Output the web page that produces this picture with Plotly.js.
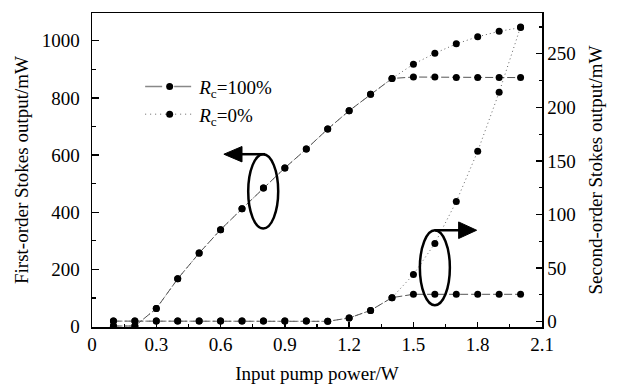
<!DOCTYPE html>
<html>
<head>
<meta charset="utf-8">
<script src="https://cdn.plot.ly/plotly-3.0.1.min.js"></script>
<style>html,body{margin:0;padding:0;background:#fff;}#chart{width:622px;height:388px;}</style>
</head>
<body>
<div id="chart"></div>
<script>
// Data
var pumpPower = [0.1,0.2,0.3,0.4,0.5,0.6,0.7,0.8,0.9,1.0,1.1,1.2,1.3,1.4,1.5,1.6,1.7,1.8,1.9,2.0];
var firstOrderRc100 = [2,2,63,167,257,339,412,485,555,621,691,755,813,868,873,873,871,871,871,871];
var firstOrderRc0   = [2,2,63,167,257,339,412,485,555,621,691,755,813,868,918,956,989,1014,1033,1046];
var secondOrderRc100 = [0.5,0.5,0.5,0.5,0.5,0.5,0.5,0.5,0.5,0.5,0.3,3.4,10.5,22.4,25.5,25.5,25.5,25.5,25.5,25.5];
var secondOrderRc0   = [0.5,0.5,0.5,0.5,0.5,0.5,0.5,0.5,0.5,0.5,0.3,3.4,10.5,22.4,44,73,112,159,214,275];
var legendNames = ['<i>R</i><sub>c</sub>=100%', '<i>R</i><sub>c</sub>=0%'];
var xTicks = [0,0.3,0.6,0.9,1.2,1.5,1.8,2.1];
var xTickText = ['0','0.3','0.6','0.9','1.2','1.5','1.8','2.1'];

var FONT = 'Liberation Serif';
var dashStyle = '8px,3px';
var dotStyle = '1px,3px';
var mk = {color:'#000', size:7};

var traces = [
  {x:pumpPower, y:secondOrderRc0, yaxis:'y2', mode:'lines+markers', name:legendNames[1], legendgroup:'b', showlegend:false,
   line:{color:'#666', width:1, dash:dotStyle}, marker:mk},
  {x:pumpPower, y:firstOrderRc0, yaxis:'y', mode:'lines+markers', name:legendNames[1], legendgroup:'b', showlegend:false,
   line:{color:'#666', width:1, dash:dotStyle}, marker:mk},
  {x:pumpPower, y:secondOrderRc100, yaxis:'y2', mode:'lines+markers', name:legendNames[0], legendgroup:'a', showlegend:false,
   line:{color:'#555', width:1, dash:dashStyle}, marker:mk},
  {x:pumpPower, y:firstOrderRc100, yaxis:'y', mode:'lines+markers', name:legendNames[0], legendgroup:'a', showlegend:false,
   line:{color:'#555', width:1, dash:dashStyle}, marker:mk},
  // legend-only entries in order
  {x:[null], y:[null], mode:'lines+markers', name:legendNames[0], legendgroup:'a', showlegend:true,
   line:{color:'#888', width:1.5, dash:'17px,12px'}, marker:mk},
  {x:[null], y:[null], mode:'lines+markers', name:legendNames[1], legendgroup:'b', showlegend:true,
   line:{color:'#666', width:1, dash:'1px,4px'}, marker:mk}
];

var layout = {
  width:622, height:388,
  margin:{l:92, r:80, t:13, b:61},
  paper_bgcolor:'#fff', plot_bgcolor:'#fff',
  font:{family:FONT, size:19, color:'#000'},
  showlegend:true,
  legend:{x:0.107, y:0.826, xanchor:'left', yanchor:'top', bgcolor:'rgba(0,0,0,0)', itemwidth:49,
          font:{family:FONT, size:19, color:'#000'}, tracegroupgap:0},
  xaxis:{range:[0,2.1], tickmode:'array', tickvals:xTicks, ticktext:xTickText,
         ticks:'inside', ticklen:5, tickwidth:1.3, tickcolor:'#000',
         minor:{dtick:0.15, tick0:0, ticks:'inside', ticklen:3, tickwidth:1.2, tickcolor:'#000'},
         showline:true, linecolor:'#000', linewidth:1.5, mirror:true, showgrid:false, zeroline:false,
         tickfont:{family:FONT, size:19},
         title:{text:'Input pump power/W', font:{family:FONT, size:19}, standoff:12}},
  yaxis:{range:[-1.5,1097], dtick:200, tick0:0,
         ticks:'inside', ticklen:7, tickwidth:1.3, tickcolor:'#000',
         minor:{dtick:100, ticks:'inside', ticklen:4, tickwidth:1.2, tickcolor:'#000'},
         showline:true, linecolor:'#000', linewidth:1.5, showgrid:false, zeroline:false,
         ticklabelstandoff:7,
         tickfont:{family:FONT, size:19},
         title:{text:'First-order Stokes output/mW', font:{family:FONT, size:19}, standoff:8}},
  yaxis2:{range:[-5,288], dtick:50, tick0:0, overlaying:'y', side:'right',
         ticks:'inside', ticklen:6, tickwidth:1.3, tickcolor:'#000',
         minor:{dtick:25, ticks:'inside', ticklen:3, tickwidth:1.2, tickcolor:'#000'},
         showline:true, linecolor:'#000', linewidth:1.5, showgrid:false, zeroline:false,
         tickfont:{family:FONT, size:19},
         title:{text:'Second-order Stokes output/mW', font:{family:FONT, size:19}, standoff:14}},
  shapes:[
    {type:'circle', xref:'x', yref:'y', x0:0.729, x1:0.869, y0:343, y1:603, line:{color:'#000', width:2.5}},
    {type:'line', xref:'x', yref:'y', x0:0.695, x1:0.808, y0:603, y1:603, line:{color:'#000', width:2.5}},
    {type:'path', xref:'x', yref:'y', path:'M 0.6155,603 L 0.700,630 L 0.700,576 Z', fillcolor:'#000', line:{color:'#000', width:1}},
    {type:'circle', xref:'x', yref:'y', x0:1.530, x1:1.670, y0:75, y1:337, line:{color:'#000', width:2.5}},
    {type:'line', xref:'x', yref:'y', x0:1.600, x1:1.715, y0:337, y1:337, line:{color:'#000', width:2.5}},
    {type:'path', xref:'x', yref:'y', path:'M 1.795,337 L 1.711,366 L 1.711,308 Z', fillcolor:'#000', line:{color:'#000', width:1}}
  ]
};

Plotly.newPlot('chart', traces, layout, {staticPlot:true, displayModeBar:false});
</script>
</body>
</html>
